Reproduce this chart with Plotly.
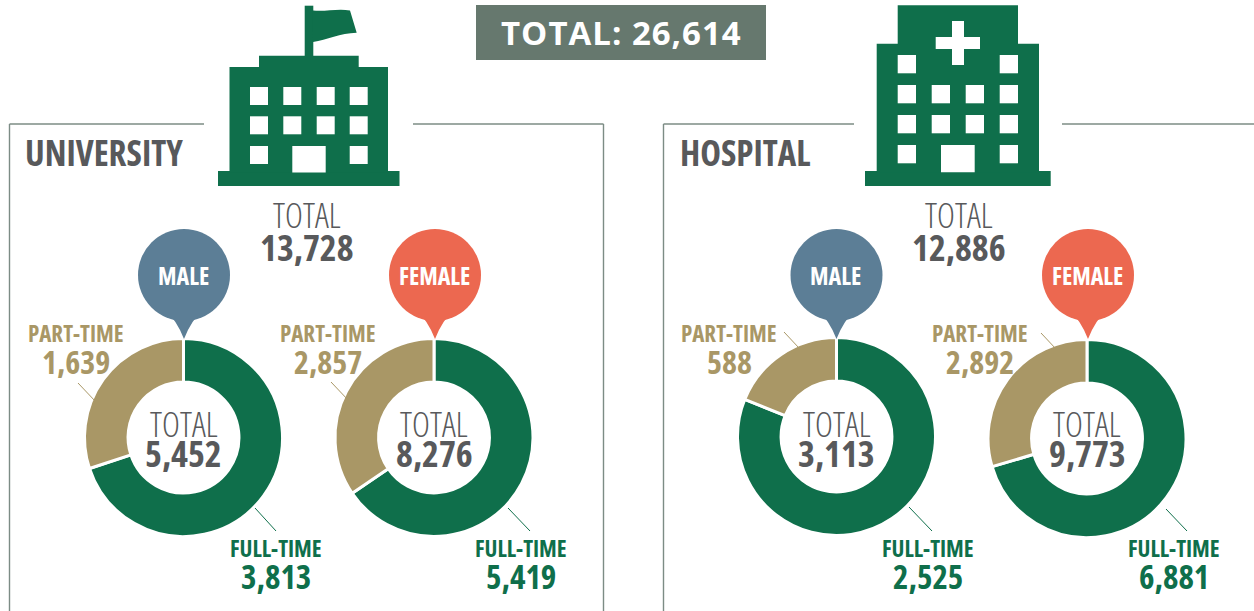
import plotly.graph_objects as go

W, H = 1254, 611
grand_total = 26614
org_names = ["UNIVERSITY", "HOSPITAL"]
org_totals = [13728, 12886]
sex_labels = ["MALE", "FEMALE", "MALE", "FEMALE"]
slice_labels = ["FULL-TIME", "PART-TIME"]
full_time = [3813, 5419, 2525, 6881]
part_time = [1639, 2857, 588, 2892]
group_totals = [5452, 8276, 3113, 9773]

GREEN, TAN, BLUE, CORAL = "#0f6f4b", "#a99766", "#5c7e96", "#ec6850"
GREY, BOX, FRAME = "#58595b", "#66786e", "#7c8c85"
NARROW = "Open Sans"

px = lambda x: x / W
py = lambda y: 1 - y / H

shapes, annotations = [], []


def rect(x0, y0, x1, y1, color):
    shapes.append(dict(type="rect", xref="paper", yref="paper", x0=px(x0), x1=px(x1),
                       y0=py(y0), y1=py(y1), fillcolor=color, line_width=0))


def line(x0, y0, x1, y1, color, width=1.0):
    shapes.append(dict(type="line", xref="paper", yref="paper", x0=px(x0), x1=px(x1),
                       y0=py(y0), y1=py(y1), line=dict(color=color, width=width)))


def path(cmds, color):
    out = []
    for c in cmds:
        if isinstance(c, str):
            out.append(c)
        else:
            out.append(f"{px(c[0]):.6f},{py(c[1]):.6f}")
    shapes.append(dict(type="path", xref="paper", yref="paper", path=" ".join(out),
                       fillcolor=color, line_width=0))


def text(x, y, s, size, color, weight=700, family=NARROW, anchor="center", style="font-stretch:75%"):
    annotations.append(dict(xref="paper", yref="paper", x=px(x), y=py(y - 0.5),
                            text=f'<span style="{style}">{s}</span>',
                            showarrow=False, xanchor=anchor, yanchor="middle",
                            font=dict(family=family, size=size, color=color, weight=weight)))


# Frames
for left, gap0, gap1, right in [(9.5, 204, 413, 603.5), (663.5, 854, 1062, 1260)]:
    line(left, 124, gap0, 124, FRAME, 1.4)
    line(gap1, 124, right, 124, FRAME, 1.4)
    line(left, 124, left, 611, FRAME, 1.4)
    if right < W:
        line(right, 124, right, 611, FRAME, 1.4)

# Title
rect(476, 5, 766, 60, BOX)
text(621, 33, f"TOTAL: {grand_total:,}", 33, "white", style="letter-spacing:1px")

# University building
rect(218, 171, 399.5, 186, GREEN)
rect(229.5, 67, 388, 172.5, GREEN)
rect(259, 55.7, 358.7, 69, GREEN)
rect(304.7, 5.7, 313.3, 57, GREEN)
path(["M", (313, 10.5), "C", (325, 12), (338, 8), (350, 10.5), "L", (356.7, 32.7),
      "C", (340, 33), (327, 40), (313, 42), "Z"], GREEN)
for x0 in [250, 283.3, 316.7, 349.7]:
    for y0 in [87, 116.3]:
        rect(x0, y0, x0 + 18, y0 + 18, "white")
for x0 in [250, 349.7]:
    rect(x0, 146, x0 + 18, 164, "white")
rect(292.3, 146, 325.7, 172.5, "white")

# Hospital building
rect(865, 171, 1050.7, 186, GREEN)
rect(876.7, 43.7, 1039, 172.3, GREEN)
rect(897.7, 5.3, 1018, 45, GREEN)
rect(952, 21, 964, 65, "white")
rect(935.7, 37, 980, 49, "white")
for x0 in [897.7, 931.7, 965.7, 999.7]:
    for y0 in [85, 115]:
        rect(x0, y0, x0 + 18.3, y0 + 18.3, "white")
for x0 in [897.7, 999.7]:
    for y0 in [55, 145]:
        rect(x0, y0, x0 + 18.3, y0 + 18.3, "white")
rect(941, 145, 974.7, 172.3, "white")

# Section headings
text(22.5, 153, org_names[0], 35, GREY, anchor="left")
text(677.5, 153, org_names[1], 35, GREY, anchor="left")
for cx, total in zip([307, 959], org_totals):
    text(cx, 216, "TOTAL", 34, GREY, weight=300)
    text(cx, 248, f"{total:,}", 36, GREY)

# Donuts and their furniture
cxs = [183.5, 434, 836.5, 1087]
cys = [437.5, 437.5, 436.5, 438.5]
pin_x = [184, 435, 836.5, 1088]
part_x = [76, 328, 729, 980]
full_x = [276, 521, 928, 1174]
part_lead = [(78, 383, 96, 402), (331, 382, 349, 401), (784, 332, 799, 348), (1041, 333, 1056, 349)]
full_lead = [(255, 508, 276, 531), (508, 508, 530, 531), (909, 507, 932, 531), (1166, 509, 1187, 531)]
R = 99
traces = []
for i in range(4):
    cx, cy = cxs[i], cys[i]
    traces.append(go.Pie(values=[full_time[i], part_time[i]], labels=slice_labels, sort=False,
                         direction="clockwise", rotation=0, hole=0.56,
                         marker=dict(colors=[GREEN, TAN], line=dict(color="white", width=3)),
                         textinfo="none", hoverinfo="label+value", showlegend=False,
                         domain=dict(x=[px(cx - R), px(cx + R)], y=[py(cy + R), py(cy - R)])))
    p = pin_x[i]
    col = BLUE if sex_labels[i] == "MALE" else CORAL
    shapes.append(dict(type="circle", xref="paper", yref="paper", x0=px(p - 46), x1=px(p + 46),
                       y0=py(275 + 46), y1=py(275 - 46), fillcolor=col, line_width=0))
    path(["M", (p - 17, 313), "Q", (p - 8, 319), (p, 339), "Q", (p + 8, 319), (p + 17, 313), "Z"], col)
    text(p - 0.7, 275.5, sex_labels[i], 24, "white")
    text(part_x[i], 333, slice_labels[1], 23, TAN)
    text(part_x[i], 362, f"{part_time[i]:,}", 32, TAN)
    text(full_x[i], 548, slice_labels[0], 23, GREEN)
    text(full_x[i], 577, f"{full_time[i]:,}", 33, GREEN)
    text(cx, 424, "TOTAL", 34, GREY, weight=300)
    text(cx, 454, f"{group_totals[i]:,}", 36, GREY)
    line(*part_lead[i], TAN, 1)
    line(*full_lead[i], GREEN, 1)

fig = go.Figure(traces)
fig.update_layout(width=W, height=H, margin=dict(l=0, r=0, t=0, b=0), paper_bgcolor="white",
                  plot_bgcolor="white", shapes=shapes, annotations=annotations, showlegend=False)
fig.write_html("out.html", config=dict(displayModeBar=False),
               post_script="document.body.style.margin='0';document.body.style.overflow='hidden';")
